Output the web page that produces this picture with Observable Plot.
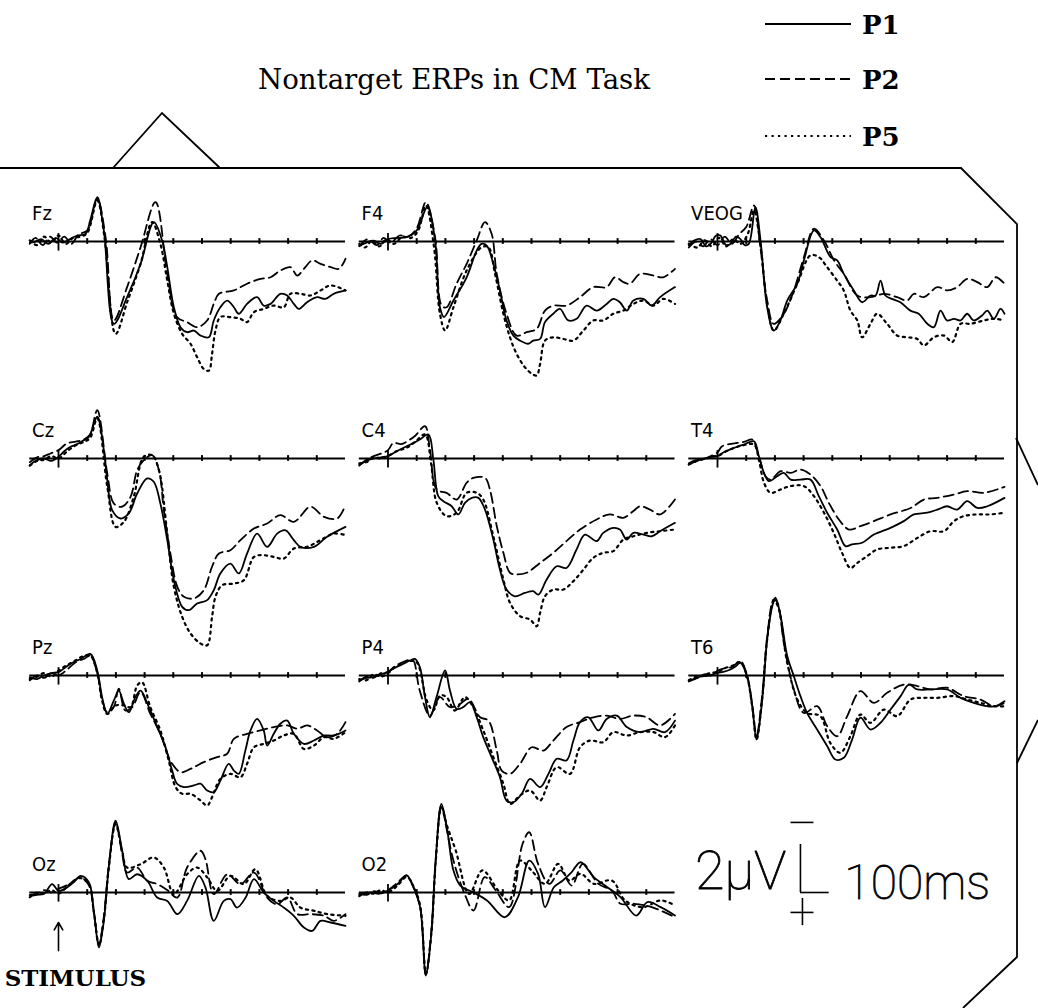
<!DOCTYPE html>
<html>
<head>
<meta charset="utf-8">
<script src="https://cdn.jsdelivr.net/npm/d3@7"></script>
<script src="https://cdn.jsdelivr.net/npm/@observablehq/plot@0.6"></script>
<style>
  body { margin: 0; background: #fff; }
  #page { position: relative; width: 1038px; height: 1008px; overflow: hidden; background: #fff; }
  #chart { position: absolute; left: 0; top: 140px; }
  #overlay { position: absolute; left: 0; top: 0; pointer-events: none; }
</style>
</head>
<body>
<div id="page">
  <div id="chart"></div>
  <svg id="overlay" width="1038" height="1008" xmlns="http://www.w3.org/2000/svg">
    <g fill="none" stroke="#000" stroke-width="1.8">
      <!-- page border -->
      <path d="M0,168 L961,168 L1017,224 L1017,957 L963,1008"/>
      <path d="M113,168 L162,113 L220,168"/>
      <path d="M1016,438 L1038,485"/>
      <path d="M1017,763 L1038,720"/>
    </g>
    <text x="258" y="89" font-family="DejaVu Serif" font-size="27" textLength="392" lengthAdjust="spacingAndGlyphs">Nontarget ERPs in CM Task</text>
    <g id="legend"></g>
  </svg>
</div>
<script>
// Electrode sites, their panel column/row, and the three conditions.
const CHANNELS = ["Fz", "F4", "VEOG", "Cz", "C4", "T4", "Pz", "P4", "T6", "Oz", "O2"];
const COLS = [0, 1, 2, 0, 1, 2, 0, 1, 2, 0, 1];
const ROWS = [0, 0, 0, 1, 1, 1, 2, 2, 2, 3, 3];
const CONDITIONS = ["P1", "P2", "P5"];
const TICKS_MS = [100, 200, 300, 400, 500, 600, 700, 800, 900];

// Grand-average waveforms: [time (ms), amplitude (µV)], negative plotted up.
const FZ_P1 = [[-100,0.05],[-85,0.03],[-60,-0.1],[-35,0.1],[-10,-0.15],[15,0.05],[40,-0.1],[65,-0.25],[94,-0.32],[111,-0.9],[135,-1.85],[158,-0.46],[193,3.43],[239,2.32],[286,0.93],[332,-0.81],[361,-0.04],[379,1.07],[402,2.74],[425,3.57],[448,3.78],[472,3.71],[495,3.92],[524,3.99],[541,3.29],[564,2.74],[588,2.46],[611,2.74],[628,3.01],[657,2.6],[692,2.32],[715,2.67],[739,2.6],[773,2.18],[797,2.25],[820,2.6],[837,2.81],[866,2.53],[901,2.32],[930,2.39],[959,2.18],[1000,2.04]];
const FZ_P2 = [[-100,0.1],[-80,-0.15],[-55,0.15],[-30,-0.2],[-5,0.05],[20,-0.2],[45,0.1],[70,-0.3],[100,-0.45],[135,-1.78],[164,-0.18],[193,3.29],[239,1.9],[286,0.24],[338,-1.64],[379,1.35],[413,3.15],[448,3.36],[483,3.57],[518,3.29],[541,2.6],[559,2.18],[611,2.04],[657,1.76],[704,1.56],[739,1.49],[773,1.21],[808,1.07],[832,1.42],[855,1.14],[884,0.79],[913,0.93],[948,1.07],[977,1.14],[1000,0.72]];
const FZ_P5 = [[-100,-0.05],[-75,0.15],[-50,-0.2],[-25,0.05],[0,-0.25],[25,0.1],[50,-0.15],[75,-0.2],[100,-0.35],[135,-1.71],[160,-0.2],[199,3.85],[240,2.5],[286,0.93],[326,-0.81],[355,0.1],[379,1.63],[402,3.01],[431,3.85],[460,4.26],[483,4.82],[506,5.31],[524,5.38],[535,4.68],[547,3.71],[564,3.15],[599,3.15],[634,3.22],[657,3.36],[681,2.94],[715,2.81],[750,2.67],[785,2.74],[808,2.18],[843,2.18],[878,2.25],[913,2.04],[948,1.83],[1000,2.04]];

const F4_P1 = [[-100,0.17],[-75,0.05],[-50,-0.04],[-25,0.1],[0,-0.1],[30,-0.15],[65,-0.18],[100,-0.46],[137,-1.43],[164,-0.04],[181,2.74],[195,3.15],[228,2.46],[274,1.49],[309,0.38],[326,0.1],[344,0.17],[367,0.93],[390,2.04],[413,3.29],[437,3.92],[460,4.13],[489,4.26],[506,4.13],[530,4.06],[547,3.36],[576,3.01],[599,2.81],[628,3.29],[657,3.22],[692,2.67],[727,2.88],[762,2.6],[785,2.39],[808,2.53],[832,2.88],[855,2.46],[890,2.39],[919,2.67],[948,2.32],[1000,1.9]];
const F4_P2 = [[-100,0.2],[-70,-0.1],[-40,0.15],[-15,-0.15],[10,0.05],[40,-0.25],[70,-0.2],[100,-0.55],[132,-1.64],[164,-0.18],[187,2.67],[204,2.74],[239,1.76],[274,0.93],[309,-0.04],[338,-0.81],[361,-0.32],[379,1.35],[413,3.01],[448,3.92],[483,3.78],[518,3.64],[547,2.88],[576,2.67],[622,2.67],[669,2.32],[715,1.9],[762,1.9],[791,1.49],[820,1.69],[843,1.76],[878,1.35],[925,1.42],[959,1.49],[1000,1.14]];
const F4_P5 = [[-100,0.1],[-80,0.25],[-55,-0.05],[-30,0.2],[-5,-0.1],[20,0.1],[50,-0.2],[80,-0.15],[105,-0.45],[132,-1.5],[160,0.2],[181,3.01],[199,3.71],[228,2.74],[274,1.21],[326,0.24],[350,0.24],[373,1.35],[402,3.01],[425,3.99],[448,4.68],[477,5.24],[501,5.51],[518,5.58],[530,5.1],[547,4.13],[576,3.99],[611,4.06],[646,4.13],[681,3.71],[715,3.29],[750,3.29],[785,3.01],[820,2.88],[855,2.6],[890,2.46],[925,2.67],[959,2.39],[1000,2.6]];

const VEOG_P1 = [[-100,0.17],[-80,-0.05],[-59,-0.1],[-40,0.2],[-24,0.1],[-5,-0.25],[10,-0.25],[30,0.15],[45,0.1],[65,-0.2],[80,-0.1],[95,0.15],[109,0.1],[132,-1.43],[150,-0.04],[173,2.74],[196,3.71],[219,3.29],[243,2.46],[278,1.76],[301,0.79],[336,-0.46],[359,-0.18],[394,0.65],[417,0.79],[440,1.35],[475,2.04],[504,2.53],[533,2.25],[551,2.25],[568,1.63],[585,2.25],[608,2.39],[637,2.53],[672,2.88],[701,3.01],[731,3.43],[754,3.57],[777,2.88],[800,3.29],[824,3.22],[847,3.29],[870,3.01],[893,3.29],[922,3.08],[940,2.88],[963,3.22],[986,2.81],[1000,3.01]];
const VEOG_P2 = [[-100,0.25],[-75,0.0],[-50,0.2],[-25,-0.1],[0,0.15],[25,-0.2],[50,0.1],[75,-0.3],[100,-0.6],[127,-1.5],[150,0.3],[173,2.46],[196,3.43],[231,3.01],[266,2.04],[301,0.65],[336,-0.53],[371,-0.04],[406,0.79],[440,1.35],[487,2.25],[533,2.32],[580,2.18],[626,2.32],[661,2.46],[684,2.18],[719,2.32],[766,1.9],[801,2.04],[835,1.9],[870,1.56],[905,1.69],[940,1.9],[969,1.49],[1000,1.76]];
const VEOG_P5 = [[-100,0.1],[-70,0.25],[-45,-0.05],[-20,0.2],[5,-0.15],[30,0.2],[55,-0.1],[80,0.1],[105,-0.3],[127,-1.3],[150,0.2],[173,2.6],[196,3.71],[231,3.01],[278,1.76],[324,0.58],[353,0.65],[382,1.07],[417,1.63],[440,2.04],[463,2.88],[487,3.29],[504,3.99],[533,3.43],[556,3.01],[591,3.43],[626,3.92],[661,3.99],[696,4.06],[719,4.33],[754,3.99],[789,3.92],[818,4.19],[847,3.43],[882,3.43],[928,3.29],[963,3.22],[1000,3.29]];

const CZ_P1 = [[-100,0.28],[-80,0.1],[-51,0.0],[-25,0.1],[0,-0.07],[20,-0.3],[42,-0.49],[65,-0.6],[88,-0.76],[106,-0.9],[135,-1.74],[158,-0.35],[170,0.9],[187,2.15],[216,2.5],[245,2.29],[274,1.46],[309,0.83],[332,0.97],[355,1.88],[379,3.4],[402,5.07],[431,6.18],[454,6.32],[483,6.04],[518,5.9],[541,5.49],[564,4.79],[599,4.38],[628,4.79],[657,3.96],[692,3.13],[727,3.68],[762,3.13],[791,2.99],[820,3.4],[843,3.68],[890,3.68],[936,3.26],[1000,2.85]];
const CZ_P2 = [[-100,0.15],[-75,-0.05],[-50,-0.1],[-28,-0.21],[0,-0.35],[30,-0.63],[60,-0.7],[90,-0.8],[110,-1.0],[135,-2.01],[170,0.63],[193,1.88],[222,2.01],[251,1.6],[274,0.49],[297,0.07],[326,-0.14],[350,0.49],[367,2.15],[390,3.96],[414,5.35],[437,5.76],[472,5.83],[506,5.49],[535,4.51],[559,3.96],[599,3.82],[634,3.4],[681,2.92],[727,2.71],[773,2.36],[820,2.64],[878,2.01],[925,2.43],[971,2.5],[1000,1.94]];
const CZ_P5 = [[-100,0.3],[-75,0.1],[-50,0.05],[-25,-0.1],[0,0.0],[30,-0.3],[60,-0.55],[90,-0.7],[110,-0.85],[135,-1.67],[170,1.18],[199,2.85],[228,2.64],[262,1.6],[297,-0.07],[326,-0.14],[350,0.49],[379,3.13],[402,5.35],[431,6.6],[460,7.29],[495,7.71],[518,7.78],[535,6.6],[547,5.76],[570,5.28],[611,5.21],[646,5.07],[681,4.1],[715,4.03],[750,4.1],[785,4.17],[820,3.75],[866,3.68],[913,3.4],[959,3.13],[1000,3.19]];

const C4_P1 = [[-100,0.25],[-75,0.1],[-50,0.0],[-25,-0.05],[0,-0.1],[30,-0.3],[65,-0.51],[90,-0.65],[111,-0.79],[141,-1.0],[158,0.04],[175,1.57],[193,1.78],[222,1.99],[245,2.33],[268,1.85],[292,1.64],[315,1.64],[338,2.13],[367,3.38],[390,4.63],[413,5.46],[442,5.74],[477,5.6],[506,5.53],[524,5.67],[553,5.04],[588,4.49],[622,4.56],[657,3.79],[686,3.17],[727,3.44],[750,3.1],[785,2.89],[808,2.96],[832,3.38],[855,3.1],[890,3.17],[919,3.24],[948,3.03],[1000,2.68]];
const C4_P2 = [[-100,0.3],[-75,0.05],[-50,-0.1],[-25,-0.2],[0,-0.35],[19,-0.65],[45,-0.6],[65,-0.7],[95,-0.95],[129,-1.35],[146,-0.38],[170,1.29],[204,1.43],[239,1.71],[274,1.01],[297,0.81],[338,0.81],[355,1.29],[379,2.82],[402,3.93],[425,4.76],[448,4.83],[483,4.76],[530,4.35],[576,3.93],[622,3.44],[669,2.96],[727,2.54],[773,2.33],[820,2.47],[855,2.19],[878,1.99],[913,2.13],[948,2.33],[1000,1.71]];
const C4_P5 = [[-100,0.2],[-75,0.15],[-50,-0.05],[-25,0.0],[0,-0.1],[30,-0.3],[65,-0.45],[95,-0.7],[129,-1.0],[150,0.2],[170,1.85],[204,2.4],[239,2.26],[274,1.43],[309,1.43],[332,1.71],[367,3.24],[402,5.04],[425,6.01],[460,6.57],[495,6.71],[518,6.99],[530,6.43],[547,5.74],[576,5.46],[611,5.46],[646,5.11],[681,4.63],[715,4.14],[750,3.93],[785,3.86],[820,3.38],[855,3.24],[901,3.1],[948,3.03],[1000,2.96]];

const T4_P1 = [[-100,0.25],[-88,0.18],[-60,0.05],[-30,-0.05],[0,-0.1],[20,-0.25],[45,-0.38],[70,-0.5],[92,-0.58],[127,-0.72],[144,-0.1],[162,0.6],[179,0.94],[208,0.74],[231,0.6],[255,0.88],[289,0.88],[324,0.88],[353,1.57],[382,2.26],[417,2.96],[446,3.65],[469,3.58],[504,3.51],[545,3.17],[603,2.89],[649,2.61],[684,2.33],[731,2.26],[766,2.13],[800,1.99],[835,2.13],[870,1.78],[905,2.06],[940,1.99],[1000,1.64]];
const T4_P2 = [[-100,0.2],[-70,0.05],[-40,0.0],[-15,-0.15],[0,-0.25],[15,-0.5],[40,-0.6],[69,-0.65],[95,-0.7],[121,-0.79],[144,-0.1],[167,0.74],[185,0.88],[220,0.53],[255,0.6],[289,0.46],[324,0.67],[359,1.15],[388,1.85],[423,2.54],[458,2.96],[498,2.82],[545,2.61],[603,2.33],[673,2.06],[719,1.71],[766,1.64],[824,1.5],[870,1.36],[928,1.43],[1000,1.18]];
const T4_P5 = [[-100,0.25],[-70,0.1],[-40,0.0],[-15,-0.1],[0,-0.1],[30,-0.3],[60,-0.45],[90,-0.55],[127,-0.58],[145,0.1],[162,1.01],[185,1.43],[220,1.29],[255,1.15],[301,1.15],[336,1.57],[371,2.26],[405,3.1],[434,3.93],[463,4.56],[487,4.35],[521,4.07],[556,3.79],[603,3.72],[649,3.65],[696,3.31],[742,3.03],[789,3.03],[824,2.61],[858,2.4],[905,2.33],[951,2.33],[1000,2.26]];

const PZ_P1 = [[-100,0.07],[-75,0.15],[-50,0.0],[-25,-0.1],[0,-0.14],[20,-0.3],[42,-0.49],[77,-0.69],[111,-0.9],[135,-0.21],[152,0.9],[170,1.6],[193,1.04],[210,0.63],[228,1.18],[245,1.53],[268,0.9],[286,0.63],[315,1.32],[344,2.15],[373,2.99],[396,3.96],[413,4.51],[437,4.65],[472,4.58],[495,4.51],[518,4.79],[541,4.86],[564,4.38],[593,3.68],[611,3.96],[628,4.1],[651,3.13],[669,2.29],[692,1.81],[715,2.29],[727,2.92],[750,2.43],[773,2.01],[797,1.88],[820,2.43],[855,2.85],[890,2.71],[925,2.5],[959,2.5],[1000,2.29]];
const PZ_P2 = [[-100,0.2],[-75,0.0],[-50,0.1],[-25,-0.1],[0,0.0],[30,-0.25],[60,-0.55],[90,-0.7],[111,-0.83],[135,-0.1],[152,1.0],[170,1.53],[193,1.3],[210,0.55],[233,1.46],[257,1.32],[286,0.69],[320,1.6],[355,2.43],[379,3.26],[396,3.68],[425,4.03],[460,3.89],[506,3.61],[553,3.4],[588,3.26],[611,2.64],[657,2.43],[704,2.29],[750,2.15],[797,2.08],[832,2.22],[866,2.08],[901,2.29],[936,2.57],[971,2.43],[1000,1.94]];
const PZ_P5 = [[-100,0.15],[-75,0.05],[-50,-0.1],[-25,0.05],[0,-0.2],[25,-0.4],[55,-0.6],[85,-0.8],[111,-0.83],[135,-0.1],[152,1.05],[170,1.6],[199,1.25],[228,1.25],[251,1.32],[274,0.42],[291,0.28],[320,1.32],[355,2.29],[384,3.54],[408,4.65],[431,4.93],[460,4.93],[495,5.21],[518,5.42],[535,5.07],[564,4.31],[599,4.1],[634,4.24],[657,3.68],[681,2.99],[715,2.85],[750,2.71],[785,2.5],[820,2.43],[855,3.06],[890,2.92],[925,2.57],[959,2.64],[1000,2.36]];

const P4_P1 = [[-100,0.21],[-75,0.1],[-51,0.07],[-25,-0.05],[0,-0.14],[20,-0.3],[42,-0.42],[77,-0.63],[94,-0.69],[111,-0.35],[129,0.9],[146,1.74],[169,0.9],[199,-0.21],[216,0.63],[239,1.39],[262,1.32],[286,1.11],[309,1.74],[332,2.57],[361,3.4],[390,4.24],[413,5.21],[437,5.28],[466,4.93],[495,4.31],[530,4.65],[559,4.1],[588,3.47],[622,3.54],[646,2.71],[669,1.94],[698,1.74],[733,2.29],[762,1.81],[797,1.67],[832,2.15],[878,2.36],[925,2.22],[965,2.36],[1000,1.88]];
const P4_P2 = [[-100,0.25],[-75,0.05],[-50,0.1],[-25,-0.1],[0,-0.15],[25,-0.4],[50,-0.55],[75,-0.65],[88,-0.63],[110,0.6],[146,1.67],[181,0.9],[216,1.32],[251,1.18],[280,0.97],[321,1.74],[350,1.88],[379,3.13],[396,3.96],[425,4.1],[460,3.68],[501,2.99],[541,3.13],[576,2.71],[622,2.15],[669,1.94],[716,1.74],[762,1.67],[808,1.81],[855,1.67],[901,1.74],[948,2.08],[1000,1.6]];
const P4_P5 = [[-100,0.15],[-75,0.2],[-50,-0.05],[-25,0.05],[0,-0.1],[25,-0.35],[50,-0.5],[75,-0.6],[100,-0.55],[135,1.04],[158,1.46],[181,0.83],[204,0.9],[233,1.46],[268,0.9],[297,1.32],[332,2.29],[367,3.4],[402,4.51],[425,5.35],[460,5.0],[495,4.79],[530,5.21],[553,4.65],[588,3.82],[634,4.1],[669,2.99],[704,2.71],[750,2.78],[785,2.36],[832,2.5],[878,2.36],[925,2.36],[965,2.57],[1000,2.08]];

const T6_P1 = [[-100,0.2],[-88,0.17],[-60,0.05],[-30,0.0],[0,-0.11],[20,-0.15],[45,-0.25],[65,-0.4],[80,-0.53],[103,0.03],[121,1.28],[136,2.67],[156,1.0],[173,-1.5],[191,-2.89],[202,-3.24],[220,-2.47],[243,-0.81],[266,0.03],[289,0.86],[312,1.56],[347,2.25],[382,2.94],[411,3.5],[440,3.43],[469,2.67],[498,1.76],[533,2.25],[568,1.97],[603,1.42],[638,0.86],[667,0.38],[696,0.58],[742,0.58],[800,0.58],[847,0.93],[893,1.14],[940,1.28],[969,1.28],[1000,1.07]];
const T6_P2 = [[-100,0.25],[-70,0.1],[-45,-0.05],[-20,0.0],[0,-0.2],[25,-0.3],[50,-0.35],[80,-0.6],[103,0.0],[121,1.2],[136,2.5],[156,0.8],[173,-1.6],[196,-3.17],[210,-3.0],[231,-1.36],[266,0.58],[301,1.56],[347,1.28],[382,2.11],[417,2.53],[452,1.69],[498,0.65],[545,1.14],[591,0.72],[649,0.38],[696,0.44],[742,0.58],[800,0.51],[858,0.86],[916,1.0],[963,1.28],[1000,1.14]];
const T6_P5 = [[-100,0.2],[-75,0.05],[-50,0.0],[-25,-0.1],[0,-0.15],[25,-0.3],[50,-0.4],[80,-0.55],[103,0.05],[121,1.3],[136,2.67],[156,0.9],[173,-1.5],[196,-3.1],[210,-2.9],[243,-0.53],[278,1.0],[312,1.56],[358,1.69],[393,2.81],[428,3.22],[463,2.53],[498,1.63],[533,1.97],[580,1.42],[626,1.69],[673,1.0],[719,0.93],[766,0.93],[824,0.86],[870,1.0],[916,1.14],[963,1.28],[1000,1.28]];

const OZ_P1 = [[-100,0.14],[-75,0.1],[-50,0.05],[-22,-0.35],[0,-0.07],[30,-0.21],[55,-0.45],[77,-0.69],[106,-0.42],[123,0.76],[141,2.29],[158,1.18],[175,-1.04],[199,-2.99],[222,-1.74],[245,-0.56],[274,-0.76],[309,-0.49],[344,0.21],[379,0.35],[414,0.9],[448,0.35],[489,-0.69],[512,-0.21],[541,1.18],[576,0.35],[599,0.28],[622,0.63],[652,0.21],[681,-0.56],[715,0.0],[750,0.35],[785,0.63],[820,0.97],[855,1.46],[884,1.6],[913,1.18],[948,1.25],[1000,1.39]];
const OZ_P2 = [[-100,0.1],[-75,0.05],[-50,-0.1],[-25,0.0],[0,-0.15],[30,-0.3],[55,-0.5],[77,-0.63],[106,-0.3],[123,0.8],[141,2.15],[158,1.0],[175,-1.1],[199,-2.92],[222,-1.6],[239,-0.83],[274,-1.04],[309,-0.49],[344,-0.35],[379,-0.1],[414,0.21],[448,-1.04],[495,-1.74],[512,-1.39],[541,0.07],[588,-0.76],[634,-0.35],[681,-0.83],[727,0.21],[762,0.49],[797,0.21],[832,0.9],[878,0.9],[925,0.97],[959,1.18],[1000,0.9]];
const OZ_P5 = [[-100,0.2],[-75,0.0],[-50,0.05],[-25,-0.1],[0,0.05],[30,-0.25],[55,-0.5],[77,-0.6],[106,-0.35],[123,0.8],[141,2.2],[158,1.1],[175,-1.0],[199,-2.85],[222,-1.7],[239,-1.04],[286,-1.18],[332,-1.46],[367,-1.04],[402,0.07],[448,-0.76],[483,-1.04],[518,-0.63],[553,-0.07],[599,-0.69],[646,-0.35],[686,-0.97],[727,0.14],[773,0.35],[808,0.21],[843,0.63],[890,0.76],[936,0.9],[1000,0.97]];

const O2_P1 = [[-100,0.1],[-90,0.06],[-60,0.0],[-30,0.05],[0,-0.08],[34,-0.36],[65,-0.71],[89,-0.22],[112,0.61],[132,3.46],[151,1.72],[166,-1.33],[186,-3.69],[205,-2.72],[228,-0.92],[252,-0.29],[298,0.0],[345,0.33],[407,1.03],[453,0.19],[492,-1.33],[523,-0.78],[547,0.61],[578,-0.22],[609,-0.5],[640,-0.85],[671,-1.26],[717,-0.64],[764,-0.22],[810,0.19],[865,0.96],[904,0.4],[950,0.61],[1000,0.96]];
const O2_P2 = [[-100,0.05],[-75,0.1],[-50,-0.05],[-25,0.0],[0,-0.1],[34,-0.42],[65,-0.71],[89,-0.2],[112,0.6],[132,3.4],[151,1.6],[166,-1.3],[186,-3.62],[205,-2.6],[228,-1.33],[267,0.06],[298,0.75],[337,-0.64],[376,-0.08],[422,0.61],[469,-2.03],[492,-2.51],[523,-1.19],[562,-0.36],[601,-0.92],[640,-0.29],[679,-1.19],[733,-0.36],[780,-0.08],[810,0.47],[857,0.47],[919,0.61],[1000,1.03]];
const O2_P5 = [[-100,0.15],[-75,0.0],[-50,0.05],[-25,-0.1],[0,0.0],[34,-0.3],[65,-0.65],[89,-0.25],[112,0.55],[132,3.4],[151,1.7],[166,-1.25],[186,-3.55],[205,-2.8],[236,-1.75],[283,0.06],[329,-0.92],[384,-0.08],[422,0.33],[460,-1.33],[500,-0.92],[547,-0.36],[593,-1.19],[632,-0.5],[671,-0.78],[717,-0.36],[780,-0.5],[826,0.33],[888,0.61],[950,0.33],[1000,0.54]];

const WAVES = {
  Fz: [FZ_P1, FZ_P2, FZ_P5], F4: [F4_P1, F4_P2, F4_P5], VEOG: [VEOG_P1, VEOG_P2, VEOG_P5],
  Cz: [CZ_P1, CZ_P2, CZ_P5], C4: [C4_P1, C4_P2, C4_P5], T4: [T4_P1, T4_P2, T4_P5],
  Pz: [PZ_P1, PZ_P2, PZ_P5], P4: [P4_P1, P4_P2, P4_P5], T6: [T6_P1, T6_P2, T6_P5],
  Oz: [OZ_P1, OZ_P2, OZ_P5], O2: [O2_P1, O2_P2, O2_P5]
};

// Line style of each condition (solid / dashed / dotted).
const DASH = { P1: null, P2: "10,5", P5: "2.2,4.3" };

// Long-format table for the line marks.
const points = [];
CHANNELS.forEach((ch, i) => {
  WAVES[ch].forEach((series, k) => {
    for (const [t, v] of series) points.push({ ch, cond: CONDITIONS[k], t, v, col: COLS[i], row: ROWS[i] });
  });
});
const panels = CHANNELS.map((ch, i) => ({ ch, col: COLS[i], row: ROWS[i] }));
const ticks = panels.flatMap(p => TICKS_MS.map(t => ({ ...p, t })));
const scaleCell = [{ col: 2, row: 3 }];
const stimCell = [{ col: 0, row: 3 }];

const F = { fx: "col", fy: "row" };
const ink = "#000";
const labelFont = "'Liberation Sans Narrow', 'DejaVu Sans Condensed', Roboto, sans-serif";
const calFont = "Roboto, 'DejaVu Sans', sans-serif";

const chart = Plot.plot({
  width: 1038,
  height: 868,
  marginTop: 0, marginBottom: 0, marginLeft: 29.3, marginRight: 34,
  x: { domain: [-100, 1000], axis: null },
  y: { domain: [4.8333, -4.2083], axis: null },
  fx: { domain: [0, 1, 2], axis: null, paddingInner: 0.0419, paddingOuter: 0, round: false },
  fy: { domain: [0, 1, 2, 3], axis: null, padding: 0, round: false },
  style: { background: "transparent", overflow: "visible" },
  marks: [
    // zero line with 100 ms ticks and the stimulus-onset marker
    Plot.ruleY(panels, { ...F, y: 0, x1: -100, x2: 1000, stroke: ink, strokeWidth: 1.8 }),
    Plot.ruleX(ticks, { ...F, x: "t", y1: -0.12, y2: 0.12, stroke: ink, strokeWidth: 2 }),
    Plot.ruleX(panels, { ...F, x: 0, y1: -0.33, y2: 0.4, stroke: ink, strokeWidth: 1.8 }),
    // waveforms
    ...CONDITIONS.map(c => Plot.line(points.filter(d => d.cond === c), {
      ...F, x: "t", y: "v", z: "ch", curve: "catmull-rom",
      stroke: ink, strokeWidth: c === "P5" ? 2.2 : 1.8, strokeDasharray: DASH[c]
    })),
    // electrode labels
    Plot.text(panels, {
      ...F, x: -92, y: -0.9, text: "ch", textAnchor: "start", lineAnchor: "bottom",
      fontFamily: labelFont, fontSize: 20, fill: ink
    }),
    // calibration: 2 µV (negative up) and 100 ms
    Plot.ruleX(scaleCell, { ...F, x: 289, y1: -2, y2: 0, stroke: ink, strokeWidth: 1.6 }),
    Plot.ruleY(scaleCell, { ...F, y: 0, x1: 289, x2: 389, stroke: ink, strokeWidth: 1.6 }),
    Plot.ruleY(scaleCell, { ...F, y: -2.92, x1: 256, x2: 336, stroke: ink, strokeWidth: 1.6 }),
    Plot.ruleY(scaleCell, { ...F, y: 0.83, x1: 256, x2: 336, stroke: ink, strokeWidth: 1.6 }),
    Plot.ruleX(scaleCell, { ...F, x: 296, y1: 0.25, y2: 1.38, stroke: ink, strokeWidth: 1.6 }),
    Plot.text(scaleCell, {
      ...F, x: 240, y: -0.15, text: () => "2\u00b5V", textAnchor: "end", lineAnchor: "bottom",
      fontFamily: calFont, fontWeight: 100, fontSize: 54, fill: ink, stroke: ink, strokeWidth: 0.8
    }),
    Plot.text(scaleCell, {
      ...F, x: 442, y: 0.25, text: () => "100ms", textAnchor: "start", lineAnchor: "bottom",
      fontFamily: calFont, fontWeight: 100, fontSize: 48, fill: ink, stroke: ink, strokeWidth: 0.8
    }),
    // stimulus onset annotation
    Plot.arrow(stimCell, { ...F, x1: 0, y1: 2.42, x2: 0, y2: 1.25, stroke: ink, strokeWidth: 1.6, headLength: 8 }),
    Plot.text(stimCell, {
      ...F, x: 59, y: 3.875, text: () => "STIMULUS", textAnchor: "middle", lineAnchor: "bottom",
      fontFamily: "DejaVu Serif", fontWeight: "bold", fontSize: 23, fill: ink
    })
  ]
});
document.getElementById("chart").appendChild(chart);

// Legend: line samples for each condition
const legend = d3.select("#legend");
const legendY = [24, 79, 136];
CONDITIONS.forEach((c, i) => {
  legend.append("line")
    .attr("x1", 765).attr("x2", 851).attr("y1", legendY[i]).attr("y2", legendY[i])
    .attr("stroke", ink).attr("stroke-width", c === "P5" ? 2.2 : 1.8)
    .attr("stroke-dasharray", DASH[c]);
  legend.append("text")
    .attr("x", 862).attr("y", legendY[i] + 10)
    .attr("font-family", "DejaVu Serif").attr("font-weight", "bold").attr("font-size", 26)
    .text(c);
});
</script>
</body>
</html>
